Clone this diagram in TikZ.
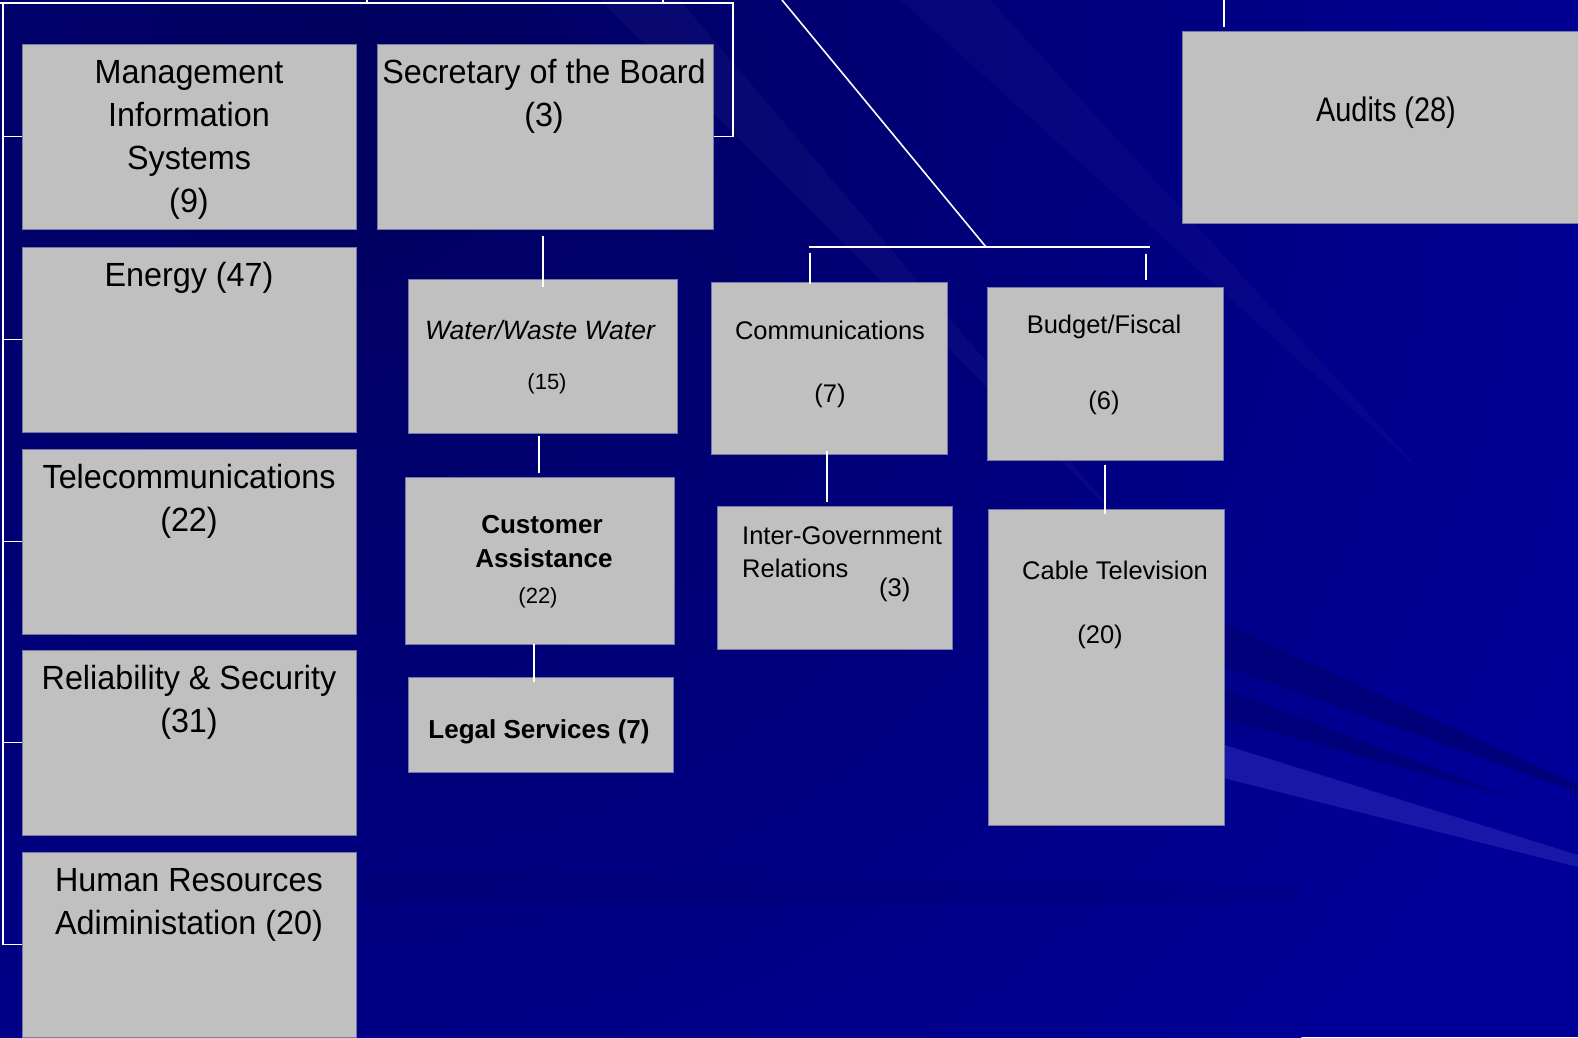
\documentclass[tikz,border=0pt]{standalone}
\usepackage{fontspec}
\setmainfont{Liberation Sans}
\newfontfamily\bigf[FakeStretch=0.965]{Liberation Sans}
\newfontfamily\audf[FakeStretch=0.85]{Liberation Sans}
\usetikzlibrary{calc}
\definecolor{bgbase}{RGB}{0,0,152}
\definecolor{bgdark}{RGB}{0,0,92}
\definecolor{bgband}{RGB}{0,0,122}
\definecolor{bglight}{RGB}{24,24,168}
\definecolor{boxfill}{RGB}{192,192,192}
\definecolor{boxedge}{RGB}{120,120,165}
\begin{document}
\begin{tikzpicture}[x=1pt,y=-1pt,
  box/.style={draw=boxedge, fill=boxfill, line width=1pt, inner sep=0pt},
  txt/.style={inner sep=0pt, anchor=base, text=black},
  txtl/.style={inner sep=0pt, anchor=base west, text=black},
  bigtxt/.style={txt, font=\bigf\fontsize{33.5}{43}\selectfont},
  audtxt/.style={txt, font=\audf\fontsize{34}{40}\selectfont},
  midtxt/.style={txt, font=\fontsize{25.5}{33}\selectfont},
  midtxtl/.style={txtl, font=\fontsize{25.5}{33}\selectfont},
  smalltxt/.style={txt, font=\fontsize{22}{28}\selectfont},
  boldtxt/.style={txt, font=\bfseries\fontsize{26}{33}\selectfont},
  ittxt/.style={txt, font=\itshape\fontsize{26.5}{33}\selectfont},
  wline/.style={draw=white, line width=1.6pt},
  conn/.style={draw=white, line width=2.8pt}
]
\useasboundingbox (0,0) rectangle (1578,1037);
\begin{scope}
\clip (0,0) rectangle (1578,1037);
% ---------- background ----------
\fill[bgbase] (0,0) rectangle (1578,1037);
\shade[inner color=bgdark, outer color=bgbase] (330,100) circle (1350);
\fill[white, opacity=0.03] (600,0) -- (680,0) -- (1120,520) -- cycle;
\fill[white, opacity=0.025] (900,0) -- (990,0) -- (1420,470) -- cycle;
\fill[bgdark, opacity=0.2] (430,0) -- (540,0) -- (820,380) -- cycle;
\fill[bgband] (1150,590) -- (1578,785) -- (1578,792) -- (1150,640) -- cycle;
\fill[bgband] (1200,680) -- (1513,798) -- (1200,712) -- cycle;
\fill[bglight] (1215,742) -- (1578,855) -- (1578,867) -- (1215,776) -- cycle;
\fill[bgdark, opacity=0.15] (356,872) -- (1300,884) -- (1300,904) -- (356,902) -- cycle;
% ---------- boxes ----------
\node[box, minimum width=334pt, minimum height=185pt] (mis) at (189,136.5) {};
\node[box, minimum width=334pt, minimum height=185pt] (energy) at (189,339.5) {};
\node[box, minimum width=334pt, minimum height=185pt] (tele) at (189,541.5) {};
\node[box, minimum width=334pt, minimum height=185pt] (rel) at (189,742.5) {};
\node[box, minimum width=334pt, minimum height=185pt] (hr) at (189,944.5) {};
\node[box, minimum width=336pt, minimum height=185pt] (sec) at (545,136.5) {};
\node[box, minimum width=269pt, minimum height=154pt] (water) at (542.5,356) {};
\node[box, minimum width=269pt, minimum height=167pt] (cust) at (539.5,560.5) {};
\node[box, minimum width=265pt, minimum height=95pt] (legal) at (540.5,724.5) {};
\node[box, minimum width=236pt, minimum height=172pt] (comm) at (829,368) {};
\node[box, minimum width=235pt, minimum height=143pt] (inter) at (834.5,577.5) {};
\node[box, minimum width=236pt, minimum height=173pt] (budget) at (1105,373.5) {};
\node[box, minimum width=236pt, minimum height=316pt] (cable) at (1106,667) {};
\node[box, minimum width=408pt, minimum height=192pt] (audits) at (1386,127) {};
% ---------- texts ----------
\node[bigtxt] (t-mis1) at (189,83) {Management};
\node[bigtxt] (t-mis2) at (189,126) {Information};
\node[bigtxt] (t-mis3) at (189,169) {Systems};
\node[bigtxt] (t-mis4) at (189,212) {(9)};
\node[bigtxt] (t-sec1) at (544,83) {Secretary of the Board};
\node[bigtxt] (t-sec2) at (544,126) {(3)};
\node[bigtxt] (t-en) at (189,286) {Energy (47)};
\node[bigtxt] (t-tel1) at (189,488) {Telecommunications};
\node[bigtxt] (t-tel2) at (189,531) {(22)};
\node[bigtxt] (t-rel1) at (189,689.5) {Reliability \& Security};
\node[bigtxt] (t-rel2) at (189,732.5) {(31)};
\node[bigtxt] (t-hr1) at (189,891) {Human Resources};
\node[bigtxt] (t-hr2) at (189,934) {Adiministation (20)};
\node[audtxt] (t-aud) at (1386,121) {Audits (28)};
\node[ittxt] (t-wat1) at (540,339) {Water/Waste Water};
\node[smalltxt] (t-wat2) at (547,389) {(15)};
\node[boldtxt] (t-cus1) at (542,533) {Customer};
\node[boldtxt] (t-cus2) at (544,567) {Assistance};
\node[smalltxt] (t-cus3) at (538,603) {(22)};
\node[boldtxt] (t-leg) at (539,738) {Legal Services (7)};
\node[midtxt] (t-com1) at (830,339) {Communications};
\node[midtxt] (t-com2) at (830,402) {(7)};
\node[midtxtl] (t-int1) at (742,544) {Inter-Government};
\node[midtxtl] (t-int2) at (742,577) {Relations};
\node[midtxtl] (t-int3) at (879,596) {(3)};
\node[midtxt] (t-bud1) at (1104,333) {Budget/Fiscal};
\node[midtxt] (t-bud2) at (1104,409) {(6)};
\node[midtxtl] (t-cab1) at (1022,579) {Cable Television};
\node[midtxt] (t-cab2) at (1100,643) {(20)};
% ---------- upper-left bracket ----------
\coordinate (topl) at (0,3);
\coordinate (ltop) at (3,3);
\coordinate (rtop) at (733,3);
\coordinate (tick1) at (367,0);
\coordinate (tick2) at (663,0);
\draw[wline] (topl) -- (rtop) -- (rtop |- sec.east) -- (sec.east);
\draw[wline] (tick1) -- (tick1 |- topl);
\draw[wline] (tick2) -- (tick2 |- topl);
\draw[wline] (ltop) |- (mis.west);
\draw[wline] (ltop) |- (energy.west);
\draw[wline] (ltop) |- (tele.west);
\draw[wline] (ltop) |- (rel.west);
\draw[wline] (ltop) |- (hr.west);
% ---------- diagonal and right bar ----------
\coordinate (diagtop) at (782,0);
\coordinate (hub) at (986,247);
\coordinate (barl) at (809,247);
\coordinate (barr) at (1150,247);
\draw[wline] (diagtop) -- (hub);
\draw[draw=white, line width=2.2pt] (barl) -- (barr);
\draw[wline] ($(comm.north)+(-19,-29)$) -- ($(comm.north)+(-19,2)$);
\draw[wline] ($(budget.north)+(41,-33)$) -- ($(budget.north)+(41,-7)$);
\draw[wline] ($(audits.north)+(-162,-31)$) -- ($(audits.north)+(-162,-4)$);
% ---------- vertical connectors ----------
\draw[conn] ($(sec.south)+(-2,6)$) -- ($(water.north)+(0.5,8)$);
\draw[conn] ($(water.south)+(-3.5,2)$) -- ($(cust.north)+(-0.5,-4)$);
\draw[conn] ($(cust.south)+(-5.5,-1)$) -- ($(legal.north)+(-6.5,5)$);
\draw[wline] ($(comm.south)+(-2,-4)$) -- ($(inter.north)+(-7.5,-4)$);
\draw[wline] ($(budget.south)+(0,4)$) -- ($(cable.north)+(-1,5)$);
\end{scope}
\end{tikzpicture}
\end{document}
